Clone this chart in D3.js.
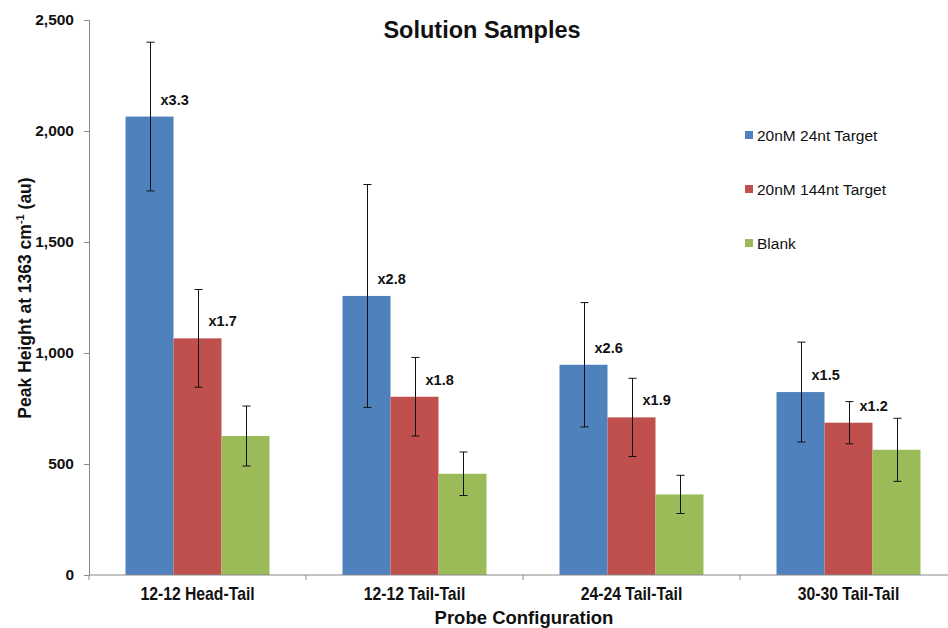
<!DOCTYPE html>
<html>
<head>
<meta charset="utf-8">
<script src="https://cdn.jsdelivr.net/npm/d3@7"></script>
<style>
  html, body { margin: 0; padding: 0; background: #fff; }
  svg { display: block; font-family: Arial, "Liberation Sans", sans-serif; }
</style>
</head>
<body>
<svg id="chart" width="948" height="628"></svg>
<script>
// Probe configurations along the x axis
const categories = ["12-12 Head-Tail", "12-12 Tail-Tail", "24-24 Tail-Tail", "30-30 Tail-Tail"];
const seriesNames = ["20nM 24nt Target", "20nM 144nt Target", "Blank"];
const seriesColors = ["#4F81BD", "#C0504D", "#9BBB59"];

// Peak heights (au) per series, one value per configuration
const target24 = [2065, 1257, 947, 824];
const target144 = [1066, 803, 710, 686];
const blank = [626, 456, 363, 564];

// Error bar half-widths
const err24 = [335, 502, 280, 225];
const err144 = [220, 177, 176, 95];
const errBlank = [135, 98, 86, 142];

// Fold-change labels over the target bars
const ratio24 = ["x3.3", "x2.8", "x2.6", "x1.5"];
const ratio144 = ["x1.7", "x1.8", "x1.9", "x1.2"];

const yTicks = [0, 500, 1000, 1500, 2000, 2500];

const svg = d3.select("#chart");
const margin = { left: 89, top: 20, bottom: 575 };
const plotRight = 957;

const x0 = d3.scaleBand().domain(categories).range([margin.left, plotRight]).paddingInner(0).paddingOuter(0);
const x1 = d3.scaleBand().domain(seriesNames).range([0, 144]);
const y = d3.scaleLinear().domain([0, 2500]).range([margin.bottom, margin.top]);

const values = [target24, target144, blank];
const errors = [err24, err144, errBlank];
const labels = [ratio24, ratio144, null];

const groupOffset = (x0.bandwidth() - 144) / 2;

// Bars
seriesNames.forEach((s, si) => {
  svg.append("g").selectAll("rect")
    .data(categories.map((c, i) => ({ c, v: values[si][i] })))
    .join("rect")
    .attr("x", d => x0(d.c) + groupOffset + x1(s))
    .attr("width", x1.bandwidth())
    .attr("y", d => y(d.v))
    .attr("height", d => y(0) - y(d.v))
    .attr("fill", seriesColors[si]);
});

// Axes
const yAxis = d3.axisLeft(y).tickValues(yTicks).tickSize(5).tickPadding(10)
  .tickFormat(d3.format(","));
const gy = svg.append("g").attr("transform", `translate(${margin.left},0)`).call(yAxis);
gy.select(".domain").attr("stroke", "#888");
gy.selectAll(".tick line").attr("stroke", "#888");
gy.selectAll(".tick text").attr("font-size", 15.5).attr("font-weight", "bold").attr("fill", "#111");

const gx = svg.append("g").attr("transform", `translate(0,${y(0)})`);
gx.append("line").attr("x1", margin.left).attr("x2", plotRight).attr("stroke", "#888");
gx.selectAll("line.tk").data(categories.concat(["end"])).join("line").attr("class", "tk")
  .attr("x1", (d, i) => margin.left + i * x0.bandwidth())
  .attr("x2", (d, i) => margin.left + i * x0.bandwidth())
  .attr("y1", 0).attr("y2", 5).attr("stroke", "#888");
gx.selectAll("text").data(categories).join("text")
  .attr("transform", d => `translate(${x0(d) + x0.bandwidth() / 2},25) scale(0.9,1)`)
  .attr("text-anchor", "middle")
  .attr("font-size", 17.5).attr("font-weight", "bold")
  .attr("fill", "#111")
  .text(d => d);

// Error bars
seriesNames.forEach((s, si) => {
  const g = svg.append("g").attr("stroke", "#111").attr("stroke-width", 1);
  categories.forEach((c, i) => {
    const cx = Math.round(x0(c) + groupOffset + x1(s) + x1.bandwidth() / 2) + 0.5;
    const v = values[si][i], e = errors[si][i];
    const yt = y(v + e), yb = y(v - e);
    g.append("line").attr("x1", cx).attr("x2", cx).attr("y1", yt).attr("y2", yb);
    g.append("line").attr("x1", cx - 4).attr("x2", cx + 4).attr("y1", yt).attr("y2", yt);
    g.append("line").attr("x1", cx - 4).attr("x2", cx + 4).attr("y1", yb).attr("y2", yb);
  });
});

// Fold-change labels
labels.forEach((lab, si) => {
  if (!lab) return;
  categories.forEach((c, i) => {
    const cx = x0(c) + groupOffset + x1(seriesNames[si]) + x1.bandwidth() / 2;
    svg.append("text")
      .attr("x", cx + 11)
      .attr("y", y(values[si][i]) - 12)
      .attr("font-size", 14.5).attr("font-weight", "bold").attr("fill", "#111")
      .text(lab[i]);
  });
});

// Title
svg.append("text").attr("x", 482).attr("y", 38).attr("text-anchor", "middle")
  .attr("font-size", 23.5).attr("font-weight", "bold").attr("fill", "#111")
  .text("Solution Samples");

// Axis titles
const yTitle = svg.append("text")
  .attr("transform", "translate(31,298) rotate(-90)")
  .attr("text-anchor", "middle")
  .attr("font-size", 17.5).attr("font-weight", "bold").attr("fill", "#111");
yTitle.append("tspan").text("Peak Height at 1363 cm");
yTitle.append("tspan").attr("dy", -7).attr("font-size", 11).text("-1");
yTitle.append("tspan").attr("dy", 7).text(" (au)");

svg.append("text").attr("x", 524).attr("y", 624).attr("text-anchor", "middle")
  .attr("font-size", 18.5).attr("font-weight", "bold")
  .attr("fill", "#111")
  .text("Probe Configuration");

// Legend
const legend = svg.append("g").attr("transform", "translate(745,135)");
seriesNames.forEach((s, i) => {
  const row = legend.append("g").attr("transform", `translate(0,${i * 54})`);
  row.append("rect").attr("x", 0).attr("y", -4).attr("width", 8).attr("height", 8).attr("fill", seriesColors[i]);
  row.append("text").attr("x", 12).attr("y", 5.5).attr("font-size", 15.5).attr("fill", "#111").text(s);
});
</script>
</body>
</html>
